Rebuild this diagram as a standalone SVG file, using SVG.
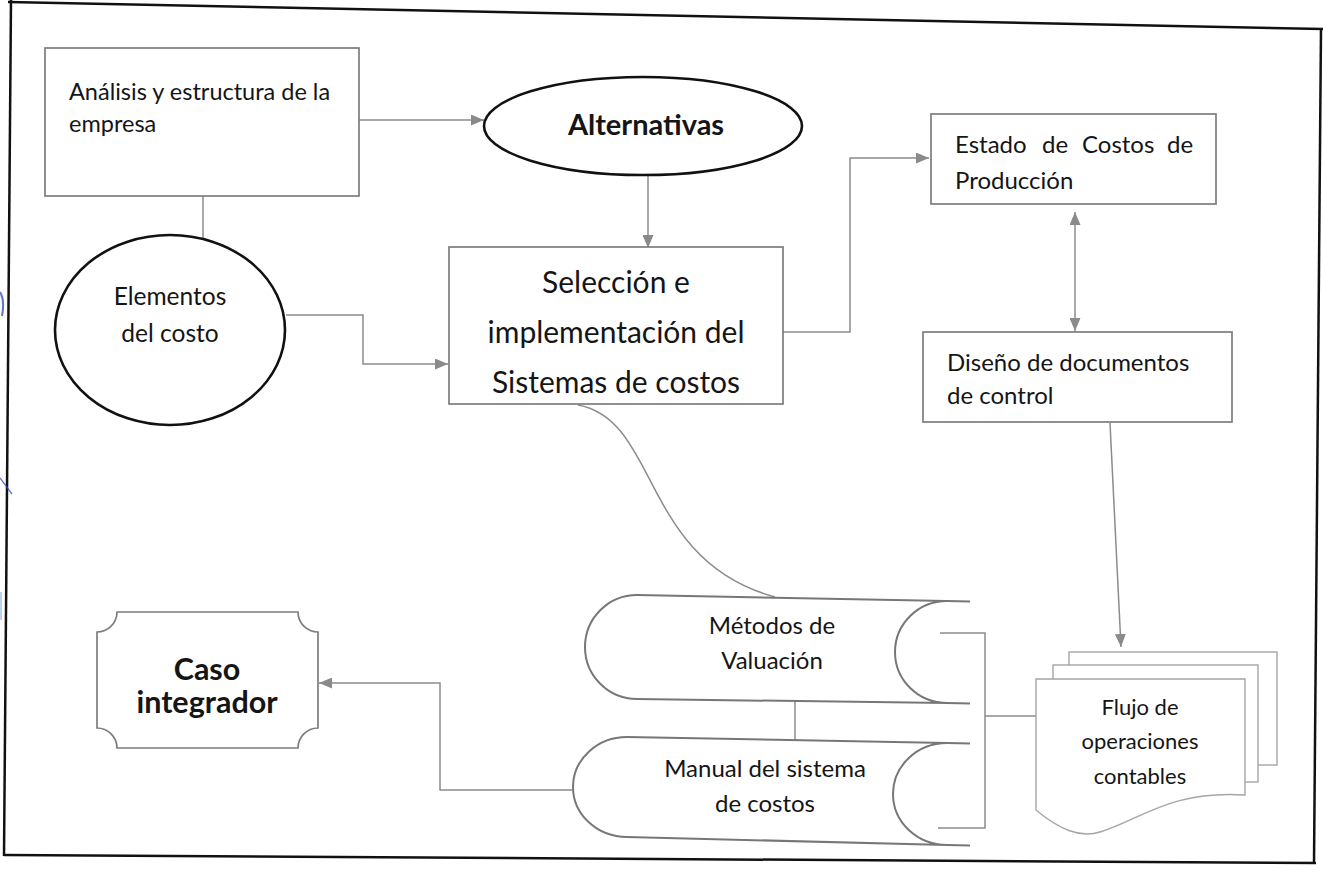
<svg xmlns="http://www.w3.org/2000/svg" width="1323" height="877" viewBox="0 0 1323 877">
<defs>
<marker id="ah" viewBox="0 0 13 11" refX="13" refY="5.5" markerWidth="13" markerHeight="11" markerUnits="userSpaceOnUse" orient="auto-start-reverse"><path d="M0,0 L13,5.5 L0,11 z" fill="#8a8a8a"/></marker>
</defs>
<style>
.t{font-family:Lato,"Open Sans","Liberation Sans",sans-serif;fill:#151515}
.b{font-weight:bold}
.box{fill:#fff;stroke:#7d7d7d;stroke-width:1.7}
.ell{fill:#fff;stroke:#111;stroke-width:2.6}
.sd{fill:#fff;stroke:#777;stroke-width:2}
.doc{fill:#fff;stroke:#a5a5a5;stroke-width:1.4}
.c{fill:none;stroke:#8c8c8c;stroke-width:1.5}
</style>
<rect width="1323" height="877" fill="#fff"/>
<g id="frame" fill="none" stroke="#111" stroke-width="2.5">
<path d="M8,2 L1323,29"/>
<path d="M1321,28 L1314,863"/>
<path d="M4,855 L1316,863"/>
<path d="M11,0 L4,856"/>
</g>
<g id="marks" fill="none" stroke="#3a4fc0" stroke-width="2" opacity="0.8">
<path d="M0,292 Q5,300 2,316"/>
<path d="M0,478 L12,494" stroke-width="1.3"/>
<path d="M1,592 L1,620" stroke="#8fb0e8" stroke-width="1.5"/>
</g>
<g id="connectors">
<path class="c" d="M359,120 L484,120" marker-end="url(#ah)"/>
<path class="c" d="M203,196 L203,238"/>
<path class="c" d="M648,175 L648,248" marker-end="url(#ah)"/>
<path class="c" d="M286,315 L363,315 L363,364 L448,364" marker-end="url(#ah)"/>
<path class="c" d="M783,332 L850,332 L850,158 L929,158" marker-end="url(#ah)"/>
<path class="c" d="M1075,212 L1075,331" marker-start="url(#ah)" marker-end="url(#ah)"/>
<path class="c" d="M1110,423 L1121,647" marker-end="url(#ah)"/>
<path class="c" d="M578,405 C660,420 640,560 775,597"/>
<path class="c" d="M795,700 L795,740"/>
<path class="c" d="M940,633 L985,633 L985,828 L938,828 M985,716 L1036,716"/>
<path class="c" d="M573,790 L440,790 L440,683 L319,683" marker-end="url(#ah)"/>
</g>
<g id="analisis">
<rect class="box" x="45" y="48" width="314" height="148"/>
<text class="t" font-size="23.5" x="69" y="100">Análisis y estructura de la</text>
<text class="t" font-size="23.5" x="69" y="132">empresa</text>
</g>
<g id="alternativas">
<ellipse class="ell" cx="643" cy="126" rx="159" ry="49"/>
<text class="t b" font-size="29" x="646" y="135" text-anchor="middle">Alternativas</text>
</g>
<g id="elementos">
<ellipse class="ell" cx="170" cy="330" rx="115" ry="95"/>
<text class="t" font-size="24.5" x="170" y="305" text-anchor="middle">Elementos</text>
<text class="t" font-size="24.5" x="170" y="342" text-anchor="middle">del costo</text>
</g>
<g id="seleccion">
<rect class="box" x="449" y="247" width="334" height="157"/>
<text class="t" font-size="30" x="616" y="293" text-anchor="middle">Selección e</text>
<text class="t" font-size="30" x="616" y="343" text-anchor="middle">implementación del</text>
<text class="t" font-size="30" x="616" y="393" text-anchor="middle">Sistemas de costos</text>
</g>
<g id="estado">
<rect class="box" x="931" y="114" width="285" height="90"/>
<text class="t" font-size="24" y="153"><tspan x="955">Estado</tspan><tspan x="1042">de</tspan><tspan x="1082">Costos</tspan><tspan x="1167">de</tspan></text>
<text class="t" font-size="24" x="955" y="189">Producción</text>
</g>
<g id="diseno">
<rect class="box" x="923" y="332" width="309" height="90"/>
<text class="t" font-size="24" x="947" y="371">Diseño de documentos</text>
<text class="t" font-size="24" x="947" y="404">de control</text>
</g>
<g id="flujo">
<rect class="doc" x="1069" y="652" width="208" height="113"/>
<rect class="doc" x="1053" y="665" width="205" height="117"/>
<path class="doc" d="M1036,679 L1245,679 L1245,795 C1170,790 1140,820 1100,832 C1080,838 1060,830 1036,810 Z"/>
<text class="t" font-size="22" x="1140" y="715" text-anchor="middle">Flujo de</text>
<text class="t" font-size="22" x="1140" y="749" text-anchor="middle">operaciones</text>
<text class="t" font-size="22" x="1140" y="784" text-anchor="middle">contables</text>
</g>
<g id="metodos">
<path class="sd" d="M947,601 L637,595 A52,52 0 0 0 637,699 L947,703 A52,51 0 0 1 947,601 Z"/>
<path class="sd" fill="none" d="M947,601 L970,601.5 M947,703 L970,703.5"/>
<text class="t" font-size="24" x="772" y="634" text-anchor="middle">Métodos de</text>
<text class="t" font-size="24" x="772" y="669" text-anchor="middle">Valuación</text>
</g>
<g id="manual">
<path class="sd" d="M947,743 L627,737 A54,50 0 0 0 627,837 L947,845 A54,51 0 0 1 947,743 Z"/>
<path class="sd" fill="none" d="M947,743 L970,743.5 M947,845 L970,845.5"/>
<text class="t" font-size="24" x="765" y="777" text-anchor="middle">Manual del sistema</text>
<text class="t" font-size="24" x="765" y="812" text-anchor="middle">de costos</text>
</g>
<g id="caso">
<path class="box" d="M117,612 L298,612 A20,20 0 0 0 318,632 L318,728 A20,20 0 0 0 298,748 L117,748 A20,20 0 0 0 97,728 L97,632 A20,20 0 0 0 117,612 Z"/>
<text class="t b" font-size="30.5" x="207" y="680" text-anchor="middle">Caso</text>
<text class="t b" font-size="30.5" x="207" y="713" text-anchor="middle">integrador</text>
</g>
</svg>
